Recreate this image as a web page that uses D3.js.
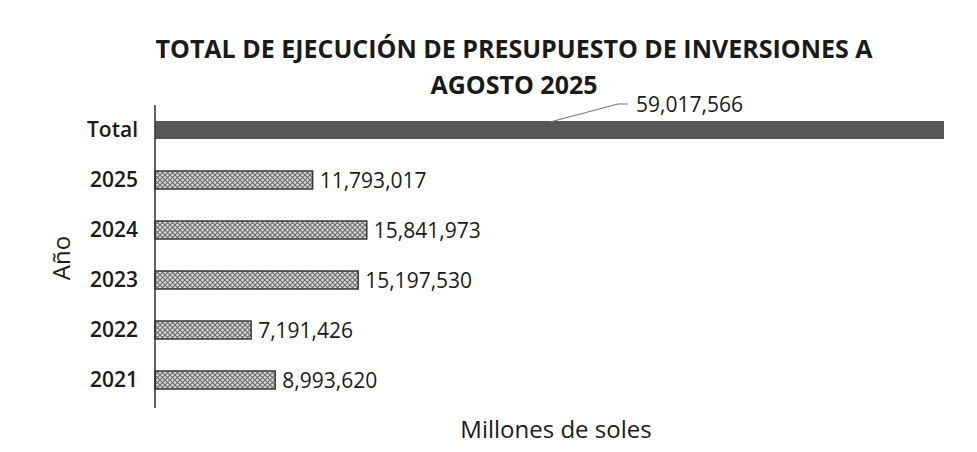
<!DOCTYPE html>
<html>
<head>
<meta charset="utf-8">
<script src="https://cdn.jsdelivr.net/npm/d3@7"></script>
<style>
  body { margin: 0; background: #fff; }
  svg text { font-family: "Open Sans", sans-serif; fill: #1a1a1a; }
</style>
</head>
<body>
<div id="myGraph"></div>
<script>
// datos
var categorias = ["Total", "2025", "2024", "2023", "2022", "2021"];
var valores = [59017566, 11793017, 15841973, 15197530, 7191426, 8993620];
var titulo = ["TOTAL DE EJECUCIÓN DE PRESUPUESTO DE INVERSIONES A", "AGOSTO 2025"];

var width = 977, height = 452;

var svg = d3.select("#myGraph").append("svg")
    .attr("width", width)
    .attr("height", height);

// trama cruzada de las barras de cada año
var defs = svg.append("defs");
var pat = defs.append("pattern")
    .attr("id", "trama")
    .attr("patternUnits", "userSpaceOnUse")
    .attr("width", 5).attr("height", 5);
pat.append("rect").attr("width", 5).attr("height", 5).attr("fill", "#d8d8d8");
pat.append("path").attr("d", "M0,0L5,5M5,0L0,5").attr("stroke", "#6a6a6a").attr("stroke-width", 1.1);

var x = d3.scaleLinear()
    .domain([0, d3.max(valores)])
    .range([155, 944]);

var y = d3.scaleBand()
    .domain(categorias)
    .range([105, 405])
    .paddingInner(0.64)
    .paddingOuter(0.32);

var datos = categorias.map(function(c, i){ return {cat: c, val: valores[i]}; });

// titulo
svg.append("text")
    .attr("x", 514).attr("y", 58)
    .attr("text-anchor", "middle")
    .style("font-size", "25px").style("font-weight", "bold")
    .text(titulo[0]);
svg.append("text")
    .attr("x", 514).attr("y", 94)
    .attr("text-anchor", "middle")
    .style("font-size", "25px").style("font-weight", "bold")
    .text(titulo[1]);

// barras
svg.selectAll(".bar")
    .data(datos)
    .enter().append("rect")
    .attr("class", "bar")
    .attr("x", x(0))
    .attr("y", function(d){ return y(d.cat); })
    .attr("width", function(d){ return x(d.val) - x(0); })
    .attr("height", y.bandwidth())
    .attr("fill", function(d){ return d.cat === "Total" ? "#575757" : "url(#trama)"; })
    .attr("stroke", function(d){ return d.cat === "Total" ? "none" : "#3a3a3a"; })
    .attr("stroke-width", 1.5);

// eje y
var ejeY = svg.append("g")
    .attr("transform", "translate(" + x(0) + ",0)")
    .call(d3.axisLeft(y).tickSize(0).tickPadding(17));
ejeY.select(".domain").attr("stroke", "#333").attr("stroke-width", 1.5)
    .attr("d", "M0,105V408");
ejeY.selectAll("text")
    .style("font-size", "21px").style("font-weight", "600")
    .style("font-family", "'Open Sans', sans-serif").attr("fill", "#1a1a1a");

// etiquetas de valores
var fmt = d3.format(",");
svg.selectAll(".lbl")
    .data(datos.filter(function(d){ return d.cat !== "Total"; }))
    .enter().append("text")
    .attr("class", "lbl")
    .attr("x", function(d){ return x(d.val) + 7; })
    .attr("y", function(d){ return y(d.cat) + y.bandwidth() / 2; })
    .attr("dy", "0.36em")
    .style("font-size", "21px")
    .text(function(d){ return fmt(d.val); });

// etiqueta del total con linea guia
var tot = datos[0];
var ty = y(tot.cat);
svg.append("path")
    .attr("d", "M" + (x(tot.val) * 0.5 + 78) + "," + (ty + 1) + "L" + 618 + "," + (ty - 17) + "H628")
    .attr("fill", "none").attr("stroke", "#777").attr("stroke-width", 1.2);
svg.append("text")
    .attr("x", 636).attr("y", ty - 17)
    .attr("dy", "0.36em")
    .style("font-size", "21px")
    .text(fmt(tot.val));

// titulos de ejes
svg.append("text")
    .attr("transform", "translate(70,258) rotate(-90)")
    .attr("text-anchor", "middle")
    .style("font-size", "24px")
    .text("Año");
svg.append("text")
    .attr("x", 556).attr("y", 438)
    .attr("text-anchor", "middle")
    .style("font-size", "24px")
    .text("Millones de soles");
</script>
</body>
</html>
